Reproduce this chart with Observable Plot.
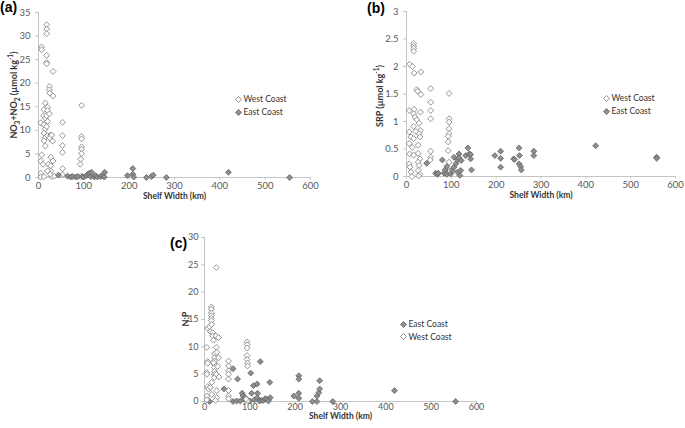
<!DOCTYPE html>
<html>
<head>
<meta charset="utf-8">
<script src="https://cdn.jsdelivr.net/npm/d3@7"></script>
<script src="https://cdn.jsdelivr.net/npm/@observablehq/plot@0.6"></script>
<style>
  html, body { margin: 0; padding: 0; background: #fff; }
  #fig { position: relative; width: 685px; height: 428px; overflow: hidden; font-family: Lato, "Liberation Sans", sans-serif; }
  .panel { position: absolute; }
  .tag { position: absolute; font-family: "Liberation Sans", Arial, sans-serif; font-weight: bold; font-size: 14px; line-height: 14px; color: #000; }
  .leg { position: absolute; height: 12px; display: flex; align-items: center; font-family: Lato, sans-serif; font-size: 8.5px; color: #333; white-space: nowrap; }
  .leg svg { margin-right: 2px; }
  .ylab { position: absolute; white-space: nowrap; font-family: Lato, sans-serif; font-weight: bold; font-size: 9px; line-height: 10px; color: #333; transform: translate(-50%, -50%) rotate(-90deg); }
  .ylab sub, .ylab sup { font-size: 6.5px; line-height: 0; }
</style>
</head>
<body>
<div id="fig"></div>
<script>
// ---------- data ----------
const xTicks = [0, 100, 200, 300, 400, 500, 600];
const aYTicks = [0, 5, 10, 15, 20, 25, 30, 35];
const bYTicks = [0, 0.5, 1, 1.5, 2, 2.5, 3];
const cYTicks = [0, 5, 10, 15, 20, 25, 30];

const seriesNames = ["West Coast", "East Coast"];
const xTitle = "Shelf Width (km)";
const aYTitle = "NO<sub>3</sub>+NO<sub>2</sub> (\u00b5mol kg<sup>-1</sup>)";
const bYTitle = "SRP (\u00b5mol kg<sup>-1</sup>)";
const cYTitle = "N:P";

// Panel (a): NO3+NO2 vs shelf width  [km, µmol/kg]
const aWest = [
  [7,27.7],[7,27.1],[5,11.6],[7,4.8],[5,3.5],[10,2.8],[5,0.9],[5,0.1],[12,0.2],
  [15,15.8],[12,14.4],[11,13.1],[15,12.6],[12,11.2],[15,10.3],[12,9.4],[15,8.5],[12,7.8],[15,6.7],
  [18,32.4],[18,31.5],[18,30.5],[18,25.9],[18,24.4],[18,24.1],[20,14.9],[20,14.2],[18,13.1],[20,11.9],[18,10.8],[20,8.9],
  [24,19.3],[24,18.6],[25,17.9],[24,13.5],[27,9.0],[25,8.4],[27,4.3],[22,2.8],[27,2.5],[27,1.4],[20,1.4],
  [32,22.5],[32,17.3],[29,9.0],[31,7.7],[32,3.5],[29,0.2],[26,0.7],[35,0.3],
  [53,11.7],[53,8.9],[53,6.8],[53,5.3],[53,1.9],[53,0.6],
  [95,15.3],[95,8.7],[95,8.2],[95,6.5],[95,6.0],[95,5.1],[93,3.9],[92,2.8],[93,0.2]
];
const aEast = [
  [44,0.5],[64,0.3],[71,0.1],[75,0.2],[82,0.1],[87,0.2],[97,0.2],[100,0.1],[106,0.4],[109,0.7],
  [112,0.9],[115,0.2],[117,1.1],[123,0.1],[126,0.4],[130,0.1],[137,0.2],[141,0.4],[145,0.1],[146,1.1],
  [196,0.4],[208,1.9],[208,0.7],[210,0.1],[238,0],[249,0.2],[253,0.5],[282,0],[419,1.1],[554,0]
];

// Panel (b): SRP vs shelf width  [km, µmol/kg]
const bWest = [
  [7,2.04],[13,2.0],[16,2.42],[16,2.37],[16,2.33],[16,2.28],[17,1.88],[32,1.90],[23,1.58],[25,1.55],[32,1.49],
  [6,1.2],[17,1.22],[16,1.14],[19,1.08],[23,1.03],[31,1.17],[28,0.97],[16,0.91],[31,0.84],[21,0.82],[6,0.81],
  [10,0.72],[16,0.69],[28,0.78],[30,0.72],[6,0.6],[26,0.57],[13,0.53],[7,0.41],[16,0.39],[26,0.42],[30,0.32],
  [26,0.26],[6,0.23],[8,0.17],[28,0.2],[26,0.11],[10,0.08],[12,0.0],[30,0.04],[27,0.01],
  [54,1.6],[54,1.35],[54,1.2],[54,1.05],[54,0.46],[54,0.35],[53,0.3],
  [95,1.51],[95,1.05],[95,0.99],[95,0.87],[95,0.78],[93,0.73],[93,0.63],[93,0.47],[95,0.26],[97,0.1]
];
const bEast = [
  [45,0.24],[65,0.06],[69,0.04],[71,0.06],[80,0.30],[84,0.06],[86,0.12],[90,0.04],[90,0.18],[99,0.05],
  [102,0.11],[106,0.17],[106,0.35],[110,0.23],[114,0.30],[114,0.08],[117,0.41],[117,0.34],[119,0.02],[121,0.11],
  [122,0.29],[132,0.38],[137,0.52],[140,0.41],[143,0.40],[143,0.32],[145,0.12],[197,0.38],[210,0.46],[210,0.33],
  [210,0.17],[239,0.32],[241,0.31],[251,0.52],[252,0.38],[251,0.23],[255,0.18],[256,0.12],[284,0.46],[284,0.38],
  [422,0.56],[558,0.35],[558,0.33]
];

// Panel (c): N:P vs shelf width
const cWest = [
  [5,9.9],[7,7.3],[7,7.0],[5,5.3],[5,5.0],[7,2.7],[9,2.3],[5,1.0],[5,0.3],
  [7,13.4],[11,13.7],[13,12.8],
  [15,17.3],[15,16.9],[15,16.2],[15,15.7],[15,15.2],[15,14.8],[16,14.1],[18,12.6],[18,12.0],[20,11.2],
  [16,3.5],[13,2.6],[16,1.3],
  [22,8.7],[22,8.0],[22,7.4],[22,6.8],[22,6.2],[22,5.5],[22,5.0],[22,4.4],[20,7.1],
  [26,24.5],[25,12.0],[26,5.0],[27,2.0],[27,0.7],[24,0.2],[31,11.7],[31,8.0],[32,4.5],[26,9.9],[27,9.0],[29,6.4],
  [53,7.4],[53,6.5],[53,5.6],[53,5.0],[53,4.1],[53,2.0],[53,1.0],[53,0.5],
  [94,10.9],[94,10.4],[94,9.8],[94,8.4],[94,7.7],[95,7.0],[95,6.5],[95,0.1],[92,0.4]
];
const cEast = [
  [11,0],[43,2.3],[63,6.0],[63,0],[73,4.1],[71,0.1],[83,1.5],[85,1.0],[79,0.1],[88,0.4],[90,0.7],[95,0.2],
  [100,0.1],[102,5.2],[104,1.5],[108,2.9],[110,0.3],[116,3.2],[117,1.5],[116,0.7],[123,7.3],[121,0.1],[126,0.2],
  [130,0.2],[134,0.5],[138,0.4],[144,3.5],[145,0.7],[141,0.1],[197,1.0],[208,4.7],[208,4.1],[208,1.5],[208,0.6],
  [238,0],[248,0],[248,1.0],[252,1.6],[254,2.3],[254,3.8],[283,0],[419,2.0],[554,0]
];

// ---------- styles ----------
const westStyle = { fill: "#ffffff", stroke: "#7a7a7a" };
const eastStyle = { fill: "#8f8f8f", stroke: "#5f5f5f" };
const axisColor = "#c4c4c4";
const tickText = "#595959";

const fig = document.getElementById("fig");

function panel({left, top, width, height, margins, yDomain, yTicks, xTickPad, yTickPad, xLabelDy, tickFont, series}) {
  const [mt, mr, mb, ml] = margins;
  const dotMarks = series.map(s => Plot.dot(s.data, {
    x: d => d[0], y: d => d[1], symbol: "diamond2", r: 2.65,
    fill: s.style.fill, stroke: s.style.stroke, strokeWidth: 0.8
  }));
  const chart = Plot.plot({
    width, height,
    marginTop: mt, marginRight: mr, marginBottom: mb, marginLeft: ml,
    style: { fontFamily: "Lato, sans-serif", fontSize: tickFont + "px", color: tickText, background: "transparent", overflow: "visible" },
    x: { domain: [0, 600] },
    y: { domain: yDomain },
    marks: [
      Plot.axisX({ ticks: xTicks, tickSize: 2.5, tickPadding: xTickPad, stroke: axisColor, fill: tickText, label: null }),
      Plot.axisY({ ticks: yTicks, tickSize: 3, tickPadding: yTickPad, stroke: axisColor, fill: tickText, label: null, tickFormat: d => String(d) }),
      Plot.ruleY([yDomain[0]], { stroke: axisColor }),
      Plot.ruleX([0], { stroke: axisColor }),
      Plot.text([xTitle], { text: d => d, frameAnchor: "bottom", dy: xLabelDy, fontWeight: "bold", fontSize: 8.5, fill: "#333" }),
      ...dotMarks
    ]
  });
  const wrap = document.createElement("div");
  wrap.className = "panel";
  wrap.style.left = left + "px";
  wrap.style.top = top + "px";
  wrap.appendChild(chart);
  fig.appendChild(wrap);
}

function tag(text, x, y) {
  const d = document.createElement("div");
  d.className = "tag";
  d.textContent = text;
  d.style.left = x + "px";
  d.style.top = y + "px";
  fig.appendChild(d);
}

function ylabel(html, cx, cy) {
  const d = document.createElement("div");
  d.className = "ylab";
  d.innerHTML = html;
  d.style.left = cx + "px";
  d.style.top = cy + "px";
  fig.appendChild(d);
}

function legend(entries, cx, cy, gap) {
  entries.forEach((e, i) => {
    const d = document.createElement("div");
    d.className = "leg";
    d.style.left = (cx - 3.5) + "px";
    d.style.top = (cy + i * gap - 6) + "px";
    d.innerHTML = `<svg width="7" height="7" viewBox="-3.5 -3.5 7 7"><path d="M0,-3L3,0L0,3L-3,0Z" fill="${e.style.fill}" stroke="${e.style.stroke}" stroke-width="0.8"/></svg><span>${e.name}</span>`;
    fig.appendChild(d);
  });
}

const west = { name: seriesNames[0], style: westStyle };
const east = { name: seriesNames[1], style: eastStyle };

// (a)
panel({
  left: 0, top: 0, width: 330, height: 205, margins: [12, 20, 28, 38],
  yDomain: [0, 35], yTicks: aYTicks, xTickPad: 2, yTickPad: 5, xLabelDy: 21, tickFont: 9.5,
  series: [{ data: aWest, style: westStyle }, { data: aEast, style: eastStyle }]
});
// (b)
panel({
  left: 340, top: 0, width: 345, height: 205, margins: [11, 10, 29, 66],
  yDomain: [0, 3], yTicks: bYTicks, xTickPad: 2, yTickPad: 5, xLabelDy: 21, tickFont: 9.5,
  series: [{ data: bWest, style: westStyle }, { data: bEast, style: eastStyle }]
});
// (c)
panel({
  left: 160, top: 215, width: 330, height: 213, margins: [22, 14, 27, 44],
  yDomain: [0, 30], yTicks: cYTicks, xTickPad: 0, yTickPad: 3, xLabelDy: 17.5, tickFont: 9,
  series: [{ data: cEast, style: eastStyle }, { data: cWest, style: westStyle }]
});

ylabel(aYTitle, 14, 95);
ylabel(bYTitle, 380, 96);
ylabel(cYTitle, 186, 319);

tag("(a)", 0, 0);
tag("(b)", 367, 1);
tag("(c)", 170, 236);

legend([west, east], 238, 99, 13);
legend([west, east], 606, 98, 13);
legend([east, west], 403, 324, 12.5);
</script>
</body>
</html>
